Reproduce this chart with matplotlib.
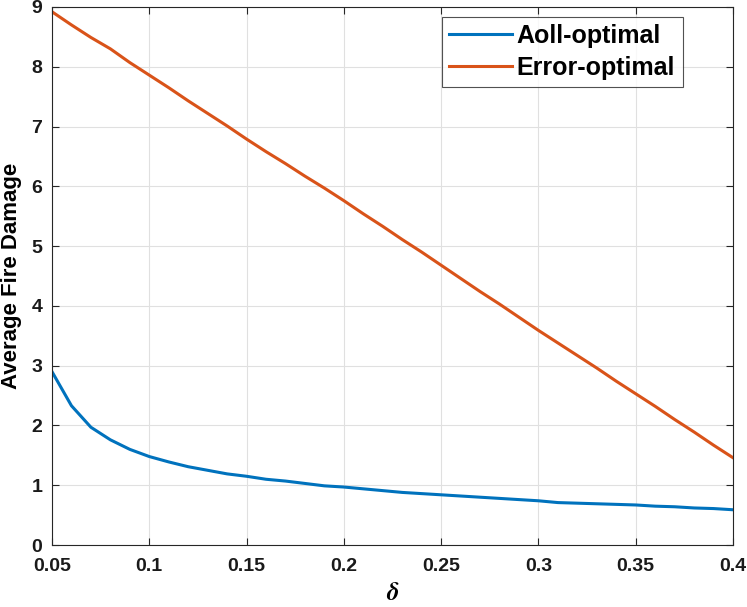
import matplotlib
matplotlib.use("Agg")
import matplotlib.pyplot as plt
import numpy as np

#### Data
delta = [0.05, 0.06, 0.07, 0.08, 0.09, 0.10, 0.11, 0.12, 0.13, 0.14, 0.15, 0.16,
         0.17, 0.18, 0.19, 0.20, 0.21, 0.22, 0.23, 0.24, 0.25, 0.26, 0.27, 0.28,
         0.29, 0.30, 0.31, 0.32, 0.33, 0.34, 0.35, 0.36, 0.37, 0.38, 0.39, 0.40]
aoll = [2.90, 2.33, 1.97, 1.76, 1.60, 1.48, 1.39, 1.31, 1.25, 1.19, 1.15, 1.10,
        1.07, 1.03, 0.99, 0.97, 0.94, 0.91, 0.88, 0.86, 0.84, 0.82, 0.80, 0.78,
        0.76, 0.74, 0.71, 0.70, 0.69, 0.68, 0.67, 0.65, 0.64, 0.62, 0.61, 0.59]
error = [8.92, 8.70, 8.49, 8.30, 8.07, 7.86, 7.65, 7.43, 7.22, 7.01, 6.79, 6.58,
         6.38, 6.17, 5.97, 5.76, 5.54, 5.33, 5.11, 4.90, 4.68, 4.46, 4.24, 4.03,
         3.81, 3.59, 3.38, 3.17, 2.96, 2.74, 2.53, 2.32, 2.10, 1.89, 1.67, 1.46]
xticks = [0.05, 0.1, 0.15, 0.2, 0.25, 0.3, 0.35, 0.4]
xticklabels = ["0.05", "0.1", "0.15", "0.2", "0.25", "0.3", "0.35", "0.4"]
yticks = list(range(0, 10))

plt.rcParams['font.family'] = ['Liberation Sans', 'DejaVu Sans']
plt.rcParams['font.weight'] = 'bold'
plt.rcParams['mathtext.fontset'] = 'stix'

fig = plt.figure(figsize=(7.47, 6.07), dpi=100)
ax = fig.add_axes([0.0696, 0.1021, 0.9117, 0.8864])

ax.plot(delta, aoll, color='#0072BD', lw=2.2, label='Aoll-optimal')
ax.plot(delta, error, color='#D95319', lw=2.2, label='Error-optimal')

ax.set_xlim(0.05, 0.4)
ax.set_ylim(0, 9)
ax.set_xticks(xticks)
ax.set_xticklabels(xticklabels)
ax.set_yticks(yticks)
ax.grid(True, color='#e0e0e0', lw=0.8)
ax.set_axisbelow(True)
ax.tick_params(direction='in', top=True, right=True, length=5, width=0.8,
               labelsize=14, colors='#262626')
ax.tick_params(axis='x', pad=9)
ax.tick_params(axis='y', pad=7)
for s in ax.spines.values():
    s.set_color('#262626')
    s.set_linewidth(0.8)
for lbl in ax.get_xticklabels() + ax.get_yticklabels():
    lbl.set_color('#1a1a1a')
    lbl.set_fontweight('bold')

ax.set_xlabel(r'$\delta$', fontsize=18, labelpad=5)
ax.set_ylabel('Average Fire Damage', fontsize=16, fontweight='bold', labelpad=7)

leg = ax.legend(loc='upper right', bbox_to_anchor=(0.926, 0.982), fontsize=18,
                frameon=True, fancybox=False, edgecolor='#262626',
                handlelength=2.5, handletextpad=0.2, borderpad=0.3,
                labelspacing=0.3, borderaxespad=0.0)
leg.get_frame().set_linewidth(0.8)
for t in leg.get_texts():
    t.set_fontweight('bold')

fig.savefig("out.png", dpi=100)
